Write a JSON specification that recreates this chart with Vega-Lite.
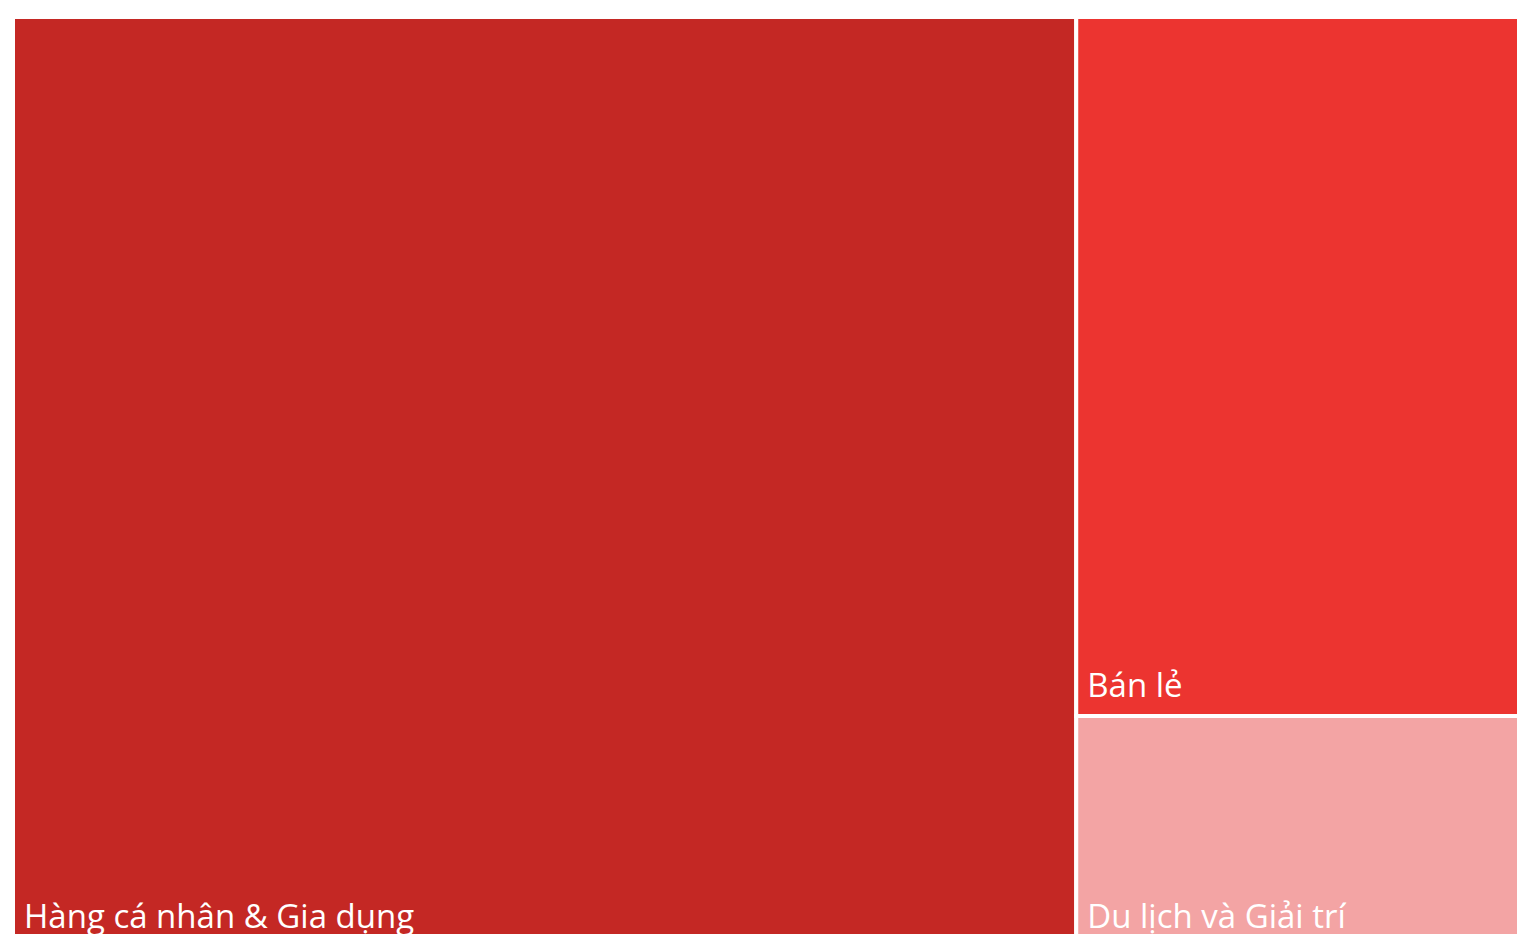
{
  "$schema": "https://vega.github.io/schema/vega-lite/v6.json",
  "width": 1506,
  "height": 930,
  "autosize": {"type": "none"},
  "padding": {"left": 13, "top": 17, "right": 11, "bottom": 0},
  "background": "white",
  "config": {"view": {"stroke": null}},
  "data": {
    "values": [
      {"name": "Hàng cá nhân & Gia dụng", "col": 1, "value": 70.6},
      {"name": "Bán lẻ", "col": 2, "value": 22.1},
      {"name": "Du lịch và Giải trí", "col": 2, "value": 7.3}
    ]
  },
  "transform": [
    {"joinaggregate": [{"op": "sum", "field": "value", "as": "colTotal"}], "groupby": ["col"]},
    {"window": [{"op": "sum", "field": "value", "as": "xEnd"}], "sort": [{"field": "col", "order": "ascending"}], "frame": [null, 0], "ignorePeers": false},
    {"calculate": "datum.xEnd - datum.colTotal", "as": "xStart"},
    {"stack": "value", "groupby": ["col"], "sort": [{"field": "value", "order": "descending"}], "offset": "normalize", "as": ["yStart", "yEnd"]}
  ],
  "layer": [
    {
      "mark": {"type": "rect", "stroke": "white", "strokeWidth": 4},
      "encoding": {
        "x": {"field": "xStart", "type": "quantitative", "scale": {"domain": [0, 100], "nice": false, "zero": false}, "axis": null},
        "x2": {"field": "xEnd"},
        "y": {"field": "yStart", "type": "quantitative", "scale": {"domain": [0, 1], "reverse": true, "nice": false}, "axis": null},
        "y2": {"field": "yEnd"},
        "color": {
          "field": "name",
          "type": "nominal",
          "scale": {
            "domain": ["Hàng cá nhân & Gia dụng", "Bán lẻ", "Du lịch và Giải trí"],
            "range": ["#C42824", "#EC3430", "#F3A4A4"]
          },
          "legend": null
        }
      }
    },
    {
      "mark": {"type": "text", "align": "left", "baseline": "alphabetic", "dx": 11, "dy": -19, "color": "white", "font": "Open Sans", "fontSize": 33},
      "encoding": {
        "x": {"field": "xStart", "type": "quantitative"},
        "y": {"field": "yEnd", "type": "quantitative"},
        "text": {"field": "name", "type": "nominal"}
      }
    }
  ]
}
